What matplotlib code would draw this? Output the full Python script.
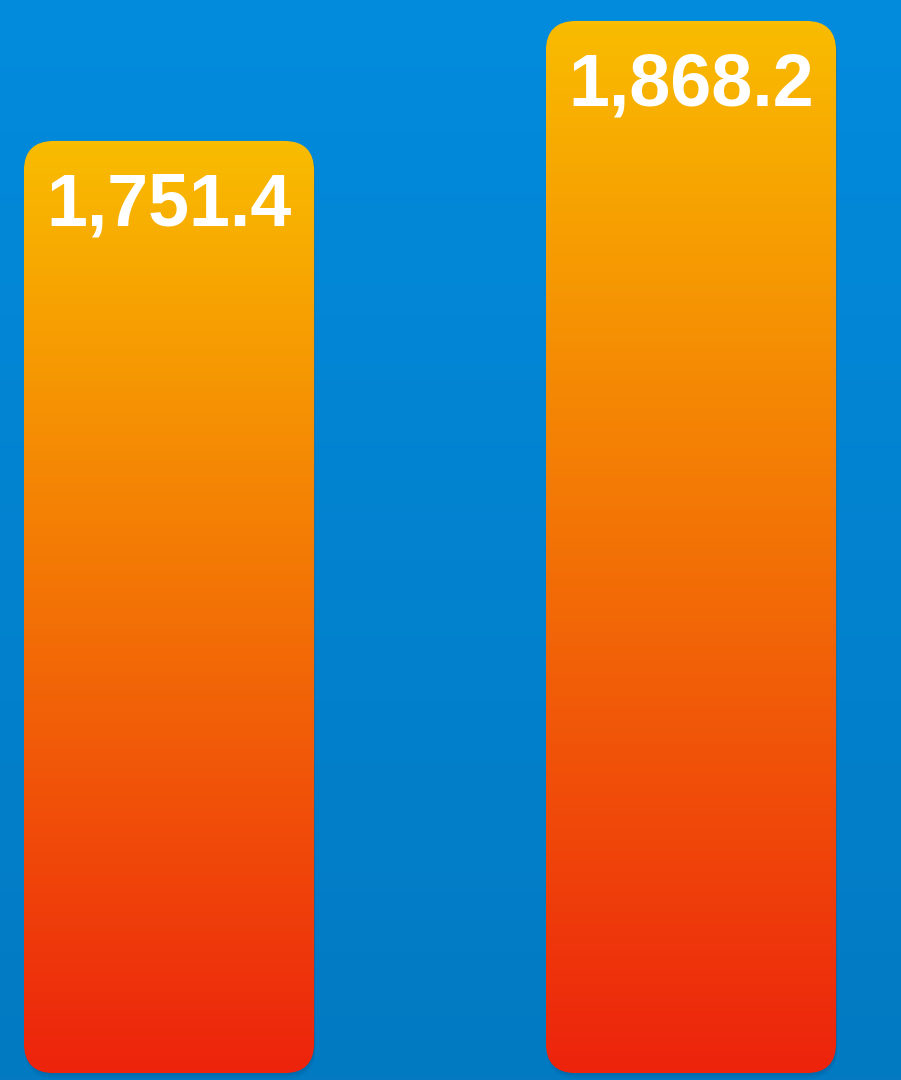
import numpy as np
import matplotlib
matplotlib.use("Agg")
import matplotlib.pyplot as plt
from matplotlib.colors import LinearSegmentedColormap
from matplotlib.patches import FancyBboxPatch

# data
categories = ["A", "B"]
values = [1751.4, 1868.2]

# layout
W, H, DPI = 901, 1080, 100
BASE = 844.0            # value where the bars start
YLIM = (837.3, 1888.6)
XLIM = (-0.3238, 1.4023)
BAR_W = 0.556
RADIUS_PX = 30

bg_cmap = LinearSegmentedColormap.from_list("bg", ["#037ac2", "#028bdd"])
bar_cmap = LinearSegmentedColormap.from_list("bar", ["#ed230d", "#f37206", "#f9bc00"])

fig = plt.figure(figsize=(W / DPI, H / DPI), dpi=DPI)
ax = fig.add_axes([0, 0, 1, 1])
ax.set_xlim(*XLIM)
ax.set_ylim(*YLIM)
ax.axis("off")

# background gradient
grad = np.linspace(0, 1, 256).reshape(-1, 1)
ax.imshow(grad, cmap=bg_cmap, extent=[0, 1, 0, 1], transform=ax.transAxes,
          aspect="auto", origin="lower", zorder=0)

bars = ax.bar(range(len(values)), [v - BASE for v in values], bottom=BASE,
              width=BAR_W, color="none", zorder=1)

# px per data unit
px_x = W / (XLIM[1] - XLIM[0])
px_y = H / (YLIM[1] - YLIM[0])
r = RADIUS_PX / px_x
aspect = px_x / px_y

for rect, val in zip(bars, values):
    x0, y0 = rect.get_x(), rect.get_y()
    w, h = rect.get_width(), rect.get_height()
    rect.set_visible(False)

    # soft shadow under the bar
    for k, a in [(6, 0.05), (4, 0.07), (2, 0.09)]:
        sh = FancyBboxPatch((x0 + 1 / px_x, y0 - k / px_y), w, h,
                            boxstyle=f"round,pad=0,rounding_size={r}",
                            mutation_aspect=aspect, facecolor="#003a66",
                            edgecolor="none", alpha=a, zorder=1.5)
        ax.add_patch(sh)

    patch = FancyBboxPatch((x0, y0), w, h,
                           boxstyle=f"round,pad=0,rounding_size={r}",
                           mutation_aspect=aspect, facecolor="none",
                           edgecolor="none", zorder=2)
    ax.add_patch(patch)
    im = ax.imshow(grad, cmap=bar_cmap, extent=[x0, x0 + w, y0, y0 + h],
                   aspect="auto", origin="lower", zorder=2)
    im.set_clip_path(patch)

    ax.annotate(f"{val:,.1f}", xy=(x0 + w / 2, y0 + h), xytext=(0, -61),
                textcoords="offset points", ha="center", va="baseline",
                fontsize=53, fontweight="bold", family="Liberation Sans",
                color="white", zorder=3)

ax.set_xlim(*XLIM)
ax.set_ylim(*YLIM)

fig.savefig("out.png", dpi=DPI)
